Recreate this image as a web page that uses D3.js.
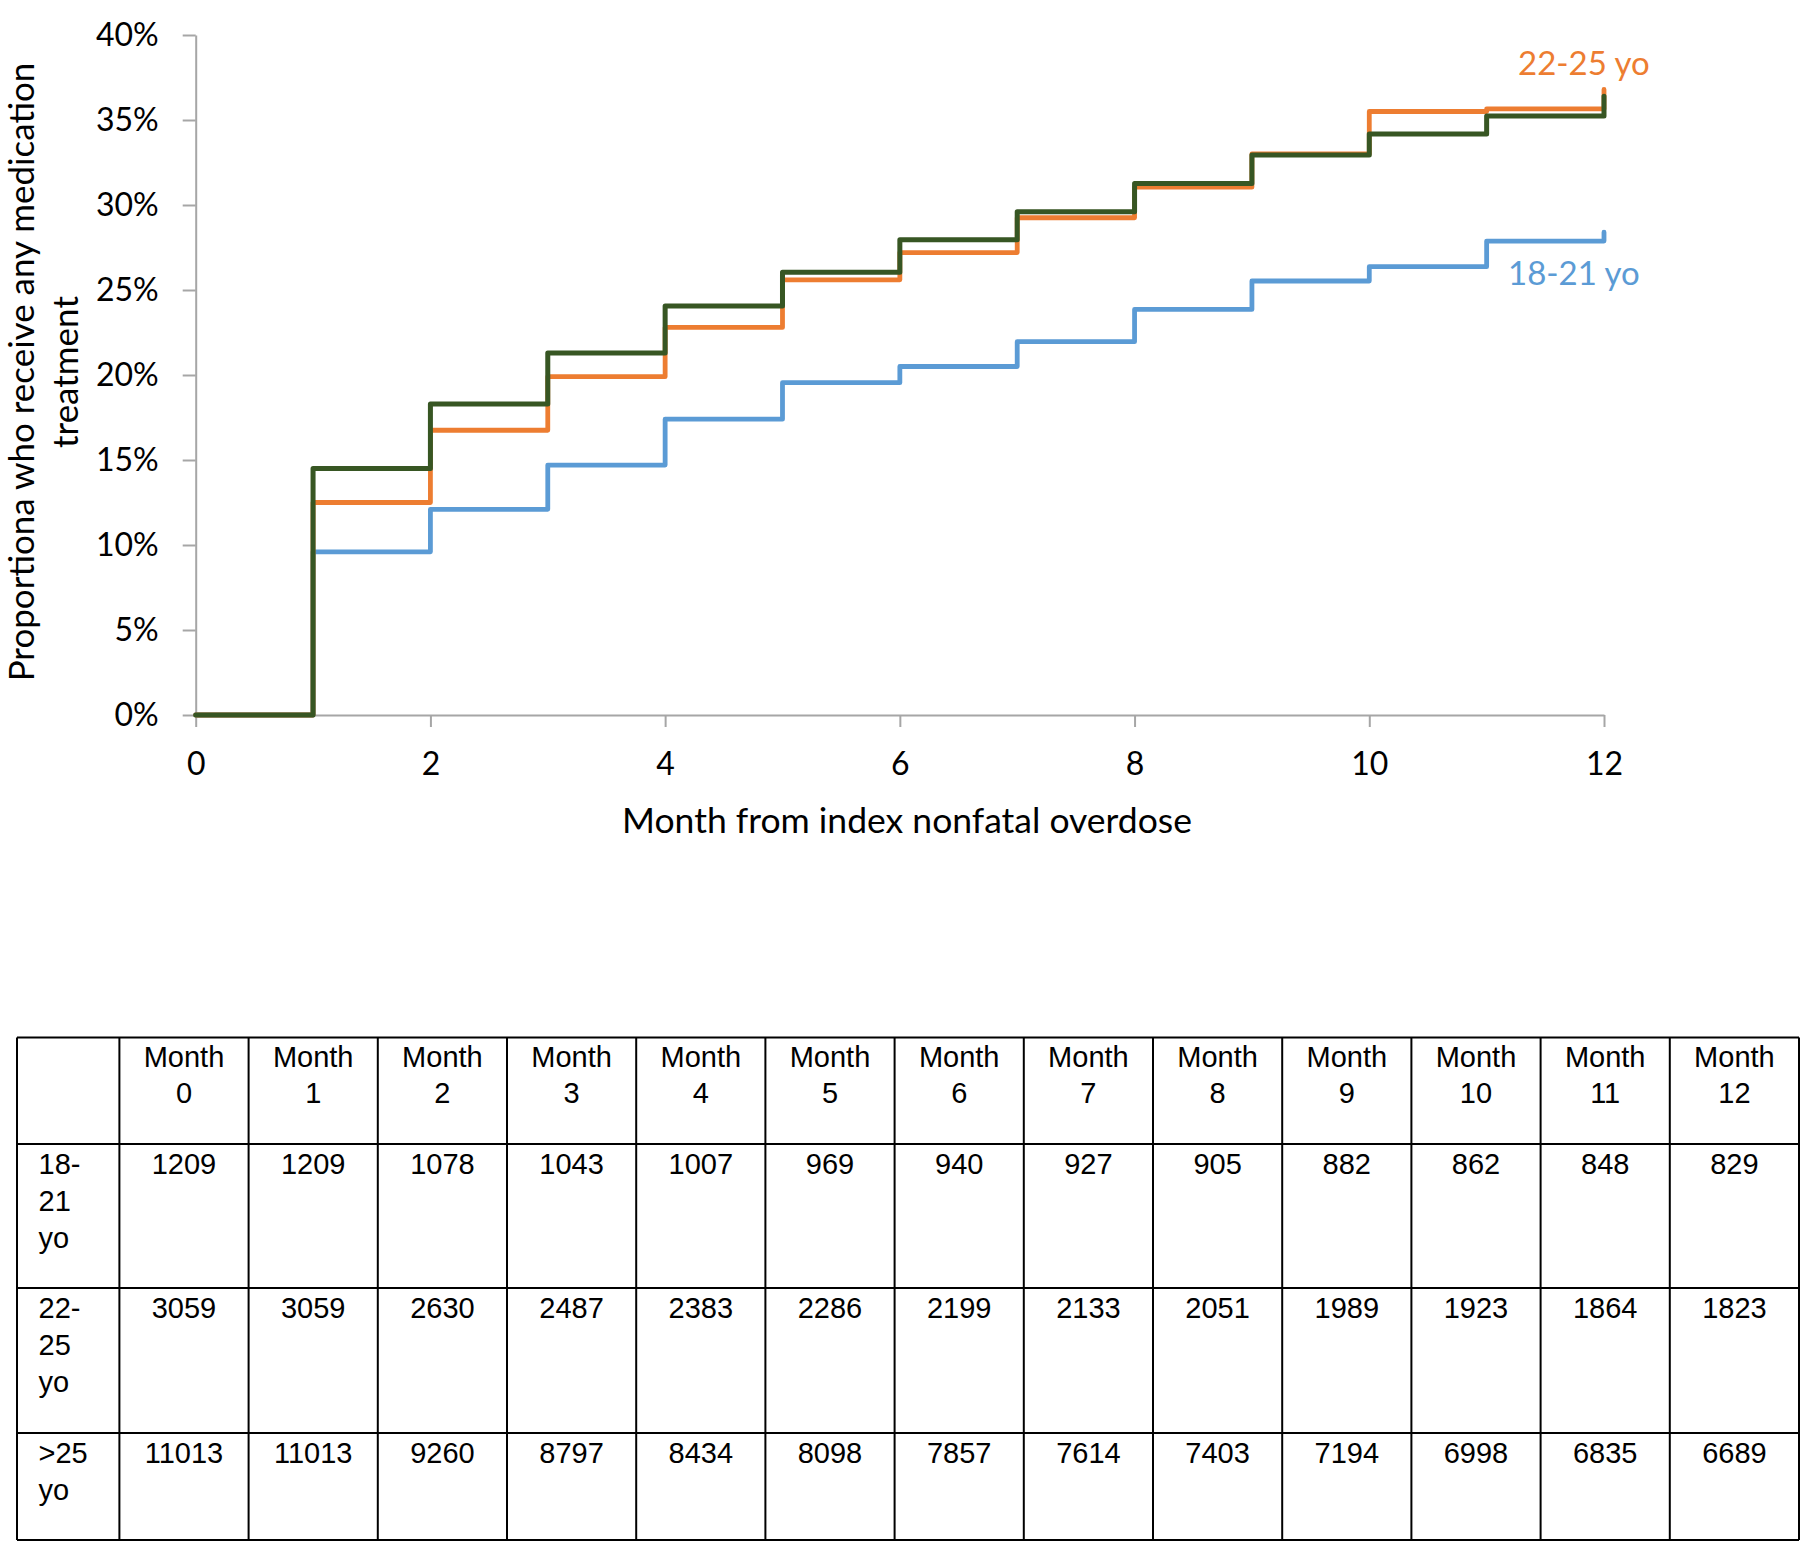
<!DOCTYPE html>
<html><head><meta charset="utf-8">
<script src="https://cdn.jsdelivr.net/npm/d3@7"></script>
<style>body{margin:0;background:#fff} svg{display:block}</style>
</head><body><svg id="c" width="1800" height="1547"></svg>
<script>
// ---------- data ----------
const months = [0,1,2,3,4,5,6,7,8,9,10,11,12];
const xTicks = [0,2,4,6,8,10,12];
const yTicks = [0,5,10,15,20,25,30,35,40];
const seriesNames = ["18-21 yo","22-25 yo",">25 yo"];
// cumulative % receiving treatment; value i holds from month i to i+1, last is end value at month 12
const pct1821   = [0, 9.6, 12.1, 14.7, 17.4, 19.55, 20.5, 21.96, 23.86, 25.53, 26.37, 27.88, 28.4];
const pct2225   = [0, 12.5, 16.75, 19.9, 22.8, 25.6, 27.2, 29.25, 31.05, 33.0, 35.5, 35.65, 36.8];
const pctOver25 = [0, 14.5, 18.3, 21.3, 24.06, 26.05, 27.95, 29.6, 31.27, 32.94, 34.18, 35.24, 36.4];
const tableHeaders = ["Month 0","Month 1","Month 2","Month 3","Month 4","Month 5","Month 6","Month 7","Month 8","Month 9","Month 10","Month 11","Month 12"];
const atRisk1821   = [1209,1209,1078,1043,1007,969,940,927,905,882,862,848,829];
const atRisk2225   = [3059,3059,2630,2487,2383,2286,2199,2133,2051,1989,1923,1864,1823];
const atRiskOver25 = [11013,11013,9260,8797,8434,8098,7857,7614,7403,7194,6998,6835,6689];
const rowLabels = [["18-","21","yo"],["22-","25","yo"],[">25","yo"]];

// ---------- chart ----------
const svg = d3.select("#c");
const FONT = "Lato, 'Open Sans', sans-serif";
const x = d3.scaleLinear().domain([0,12]).range([195.7,1604]);
const y = d3.scaleLinear().domain([0,40]).range([715,35]);
const axisColor = "#a6a6a6";

const gy = svg.append("g").attr("transform","translate(195.7,0)")
  .call(d3.axisLeft(y).tickValues(yTicks).tickSize(13).tickSizeOuter(0).tickPadding(24).tickFormat(d=>d+"%"));
const gx = svg.append("g").attr("transform","translate(0,715)")
  .call(d3.axisBottom(x).tickValues(xTicks).tickSize(12).tickSizeOuter(0));
[gx,gy].forEach(g=>{
  g.select(".domain").attr("stroke",axisColor).attr("stroke-width",2);
  g.selectAll(".tick line").attr("stroke",axisColor).attr("stroke-width",2);
  g.selectAll("text").attr("font-family",FONT).attr("font-size",32).attr("fill","#000");
});
gx.selectAll(".tick text").attr("dy",null).attr("y",60);

const line = d3.line().x((d,i)=>x(months[i])).y(d=>y(d)).curve(d3.curveStepAfter);
const series = [
  {vals:pct1821, color:"#5b9bd5", w:4.8},
  {vals:pct2225, color:"#ed7d31", w:4.8},
  {vals:pctOver25, color:"#375623", w:5}
];
svg.append("g").selectAll("path").data(series).join("path")
  .attr("d",d=>line(d.vals)).attr("fill","none")
  .attr("stroke",d=>d.color).attr("stroke-width",d=>d.w)
  .attr("stroke-linejoin","round").attr("stroke-linecap","round");

svg.append("text").attr("x",1518).attr("y",75).attr("font-family",FONT).attr("font-size",33)
  .attr("fill","#ed7d31").text(seriesNames[1]);
svg.append("text").attr("x",1508).attr("y",285).attr("font-family",FONT).attr("font-size",33)
  .attr("fill","#5b9bd5").text(seriesNames[0]);

// axis titles
svg.append("text").attr("transform","translate(34,372) rotate(-90)").attr("text-anchor","middle")
  .attr("font-family",FONT).attr("font-size",35).text("Proportiona who receive any medication");
svg.append("text").attr("transform","translate(78,372) rotate(-90)").attr("text-anchor","middle")
  .attr("font-family",FONT).attr("font-size",35).text("treatment");
svg.append("text").attr("x",907).attr("y",833).attr("text-anchor","middle")
  .attr("font-family",FONT).attr("font-size",35.5).text("Month from index nonfatal overdose");

// ---------- table ----------
const TF = "'Liberation Sans', Arial, sans-serif";
const tLeft = 17, tFirst = 119.4, tRight = 1799;
const colX = d3.scaleLinear().domain([0,13]).range([tFirst,tRight]);
const rowY = [1037.5,1144,1288,1433,1540];
const tg = svg.append("g");
tg.selectAll("line.h").data(rowY).join("line").attr("class","h")
  .attr("x1",tLeft).attr("x2",tRight).attr("y1",d=>d).attr("y2",d=>d)
  .attr("stroke","#000").attr("stroke-width",2);
const vx = [tLeft].concat(d3.range(14).map(i=>colX(i)));
tg.selectAll("line.v").data(vx).join("line").attr("class","v")
  .attr("x1",d=>d).attr("x2",d=>d).attr("y1",rowY[0]).attr("y2",rowY[4])
  .attr("stroke","#000").attr("stroke-width",2);
tableHeaders.forEach((h,i)=>{
  const parts = h.split(" ");
  const t = tg.append("text").attr("text-anchor","middle").attr("font-family",TF).attr("font-size",29);
  t.append("tspan").attr("x",colX(i+0.5)).attr("y",1066.7).text(parts[0]);
  t.append("tspan").attr("x",colX(i+0.5)).attr("y",1103.3).text(parts[1]);
});
const rows = [atRisk1821, atRisk2225, atRiskOver25];
rows.forEach((r,ri)=>{
  const base = rowY[ri+1] + 29.5;
  r.forEach((v,i)=>{
    tg.append("text").attr("x",colX(i+0.5)).attr("y",base).attr("text-anchor","middle")
      .attr("font-family",TF).attr("font-size",29).text(v);
  });
  const t = tg.append("text").attr("font-family",TF).attr("font-size",29);
  rowLabels[ri].forEach((s,k)=>t.append("tspan").attr("x",38.5).attr("y",base+k*37.3).text(s));
});
</script></body></html>
